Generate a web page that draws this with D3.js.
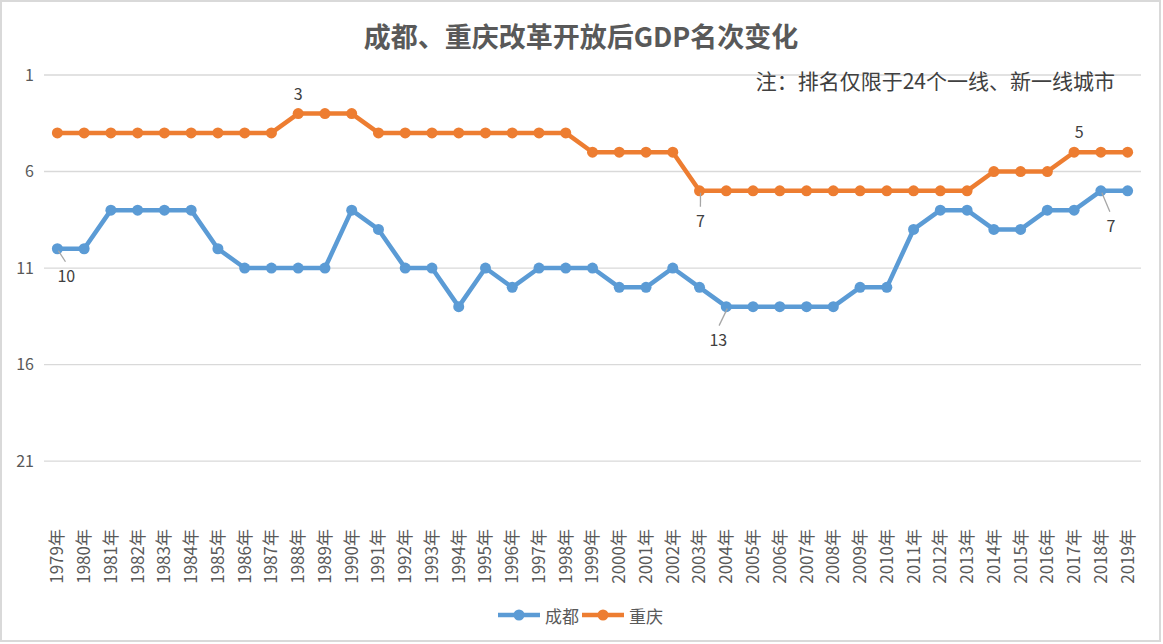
<!DOCTYPE html>
<html><head><meta charset="utf-8">
<script src="https://cdn.jsdelivr.net/npm/d3@7/dist/d3.min.js"></script>
<style>
html,body{margin:0;padding:0;background:#fff;}
svg{display:block;font-family:"Noto Sans CJK SC","Noto Sans",sans-serif;}
</style></head>
<body>
<svg id="chart" width="1163" height="644"></svg>
<script>
const years = ["1979","1980","1981","1982","1983","1984","1985","1986","1987","1988","1989","1990","1991","1992","1993","1994","1995","1996","1997","1998","1999","2000","2001","2002","2003","2004","2005","2006","2007","2008","2009","2010","2011","2012","2013","2014","2015","2016","2017","2018","2019"];
const chengdu = [10,10,8,8,8,8,10,11,11,11,11,8,9,11,11,13,11,12,11,11,11,12,12,11,12,13,13,13,13,13,12,12,9,8,8,9,9,8,8,7,7];
const chongqing = [4,4,4,4,4,4,4,4,4,3,3,3,4,4,4,4,4,4,4,4,5,5,5,5,7,7,7,7,7,7,7,7,7,7,7,6,6,6,5,5,5];
const yTicks = [1,6,11,16,21];
const seriesNames = ["成都","重庆"];
const title = "成都、重庆改革开放后GDP名次变化";
const note = "注：排名仅限于24个一线、新一线城市";

const colors = ["#5B9BD5","#ED7D31"];
const series = [
  {name: seriesNames[0], values: chengdu, color: colors[0]},
  {name: seriesNames[1], values: chongqing, color: colors[1]}
];
const labelSpecs = [
  {s:0, year:"1979", dx:9, dy:26, leader:true},
  {s:0, year:"2004", dx:-8, dy:32, leader:true},
  {s:0, year:"2018", dx:10, dy:34, leader:true},
  {s:1, year:"1988", dx:0, dy:-21, leader:false},
  {s:1, year:"2003", dx:1, dy:29, leader:true},
  {s:1, year:"2017", dx:5, dy:-21, leader:false}
];

(function(){
const svg = d3.select("#chart");
const W = 1163, H = 644;
svg.append("rect").attr("x",1).attr("y",1).attr("width",W-4).attr("height",H-4)
  .attr("fill","#fff").attr("stroke","#d9d9d9").attr("stroke-width",2);

const pL = 44, pR = 1141, pT = 75, pB = 519;
const x = d3.scaleBand().domain(years).range([pL,pR]);
const cx = d => x(d) + x.bandwidth()/2;
const y = d3.scaleLinear().domain([1,24]).range([pT,pB]);

svg.append("g").selectAll("line").data(yTicks).join("line")
  .attr("x1",pL).attr("x2",pR)
  .attr("y1",d=>y(d)).attr("y2",d=>y(d))
  .attr("stroke","#d9d9d9").attr("stroke-width",1.3);

const yAxis = d3.axisLeft(y).tickValues(yTicks).tickSize(0).tickPadding(0);
const gy = svg.append("g").attr("transform",`translate(${pL-10},0)`).call(yAxis);
gy.select(".domain").remove();
gy.selectAll("text").attr("font-size",16).attr("fill","#595959")
  .attr("font-family","'Noto Sans CJK SC','Noto Sans',sans-serif");

const xAxis = d3.axisBottom(x).tickSize(0).tickFormat(d=>d+"年");
const gx = svg.append("g").attr("transform",`translate(0,${pB})`).call(xAxis);
gx.select(".domain").remove();
gx.selectAll("text").attr("font-size",17).attr("fill","#595959")
  .attr("font-family","'Noto Sans CJK SC','Noto Sans',sans-serif")
  .attr("transform","rotate(-90)")
  .attr("text-anchor","end").attr("dy","0.35em").attr("dx","-10").attr("y",0).attr("x",0);

const line = d3.line().x((d,i)=>cx(years[i])).y(d=>y(d));
series.forEach(s=>{
  svg.append("path").datum(s.values).attr("d",line)
    .attr("fill","none").attr("stroke",s.color).attr("stroke-width",4.5)
    .attr("stroke-linejoin","round").attr("stroke-linecap","round");
  svg.append("g").selectAll("circle").data(s.values).join("circle")
    .attr("cx",(d,i)=>cx(years[i])).attr("cy",d=>y(d)).attr("r",5.5)
    .attr("fill",s.color);
});

labelSpecs.forEach(l=>{
  const i = years.indexOf(l.year);
  const v = series[l.s].values[i];
  const px = cx(l.year), py = y(v);
  if (l.leader) {
    svg.append("line").attr("x1",px+1).attr("y1",py+2)
      .attr("x2",px + l.dx*0.9).attr("y2",py + l.dy - 13)
      .attr("stroke","#a6a6a6").attr("stroke-width",1.3);
  }
  svg.append("text").attr("x",px+l.dx).attr("y",py+l.dy)
    .attr("text-anchor","middle").attr("dominant-baseline","central")
    .attr("font-size",16).attr("fill","#404040").text(v);
});

svg.append("text").attr("x",581).attr("y",35).attr("text-anchor","middle")
  .attr("dominant-baseline","central").attr("font-size",27).attr("font-weight","bold")
  .attr("fill","#595959").text(title);

svg.append("text").attr("x",1115).attr("y",80).attr("text-anchor","end")
  .attr("dominant-baseline","central").attr("font-size",21)
  .attr("fill","#404040").text(note);

const legend = svg.append("g").attr("transform","translate(498,615)");
const legItems = [{x:0, s:series[0]},{x:84, s:series[1]}];
legItems.forEach(it=>{
  const g = legend.append("g").attr("transform",`translate(${it.x},0)`);
  g.append("line").attr("x1",0).attr("x2",42).attr("y1",0).attr("y2",0)
    .attr("stroke",it.s.color).attr("stroke-width",4.5);
  g.append("circle").attr("cx",21).attr("cy",0).attr("r",5.5).attr("fill",it.s.color);
  g.append("text").attr("x",47).attr("y",0).attr("dominant-baseline","central")
    .attr("font-size",17).attr("fill","#595959").text(it.s.name);
});
})();
</script>
</body></html>
